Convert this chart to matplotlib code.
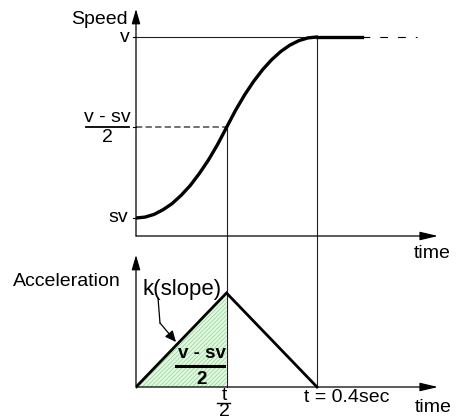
import matplotlib
matplotlib.use("Agg")
import matplotlib.pyplot as plt

plt.rcParams['font.family'] = ['Liberation Sans', 'DejaVu Sans']
plt.rcParams['hatch.linewidth'] = 0.5

# speed profile (0 = sv, 1 = v) sampled over the 0.4 s ramp
times = [0.00, 0.02, 0.04, 0.06, 0.08, 0.10, 0.12, 0.14, 0.16, 0.18, 0.20,
         0.22, 0.24, 0.26, 0.28, 0.30, 0.32, 0.34, 0.36, 0.38, 0.40]
speed = [0.000, 0.005, 0.020, 0.046, 0.080, 0.126, 0.180, 0.246, 0.320, 0.405, 0.500,
         0.595, 0.680, 0.755, 0.820, 0.875, 0.920, 0.955, 0.980, 0.995, 1.000]
sv_level = 0.0
v_level = 1.0
mid_level = 0.5

# speed held at v after the ramp
hold_times = [0.40, 0.50]
hold_dash_times = [0.50, 0.62]

# triangular acceleration profile
acc_times = [0.0, 0.2, 0.4]
acc_values = [0.0, 1.0, 0.0]
t_end = 0.4
t_half = 0.2

W, H = 461, 418
fig = plt.figure(figsize=(W / 100, H / 100), dpi=100)

x0, x_tip = 136, 437
t_max = 0.4 * (x_tip - x0) / 181
ax_w = (x_tip - x0) / W

ax1 = fig.add_axes([x0 / W, 1 - 236 / H, ax_w, (236 - 9) / H])
ax1.set_xlim(0, t_max)
s_axis = (218 - 236) / 181
ax1.set_ylim(s_axis, (218 - 9) / 181)
ax1.set_axis_off()

ax2 = fig.add_axes([x0 / W, 0, ax_w, (H - 236) / H])
ax2.set_xlim(0, t_max)
a_top = (387 - 236) / 94
ax2.set_ylim((387 - H) / 94, a_top)
ax2.set_axis_off()

dt = 0.4 / 181   # time per pixel
ds = 1 / 181     # speed per pixel
da = 1 / 94      # acceleration per pixel

thin = dict(color='#222222', lw=0.8)


def axis_arrow(ax, start, end, hl):
    ax.annotate('', xy=end, xytext=start, annotation_clip=False,
                arrowprops=dict(arrowstyle=f'-|>,head_length={hl},head_width=0.13',
                                mutation_scale=20, lw=0.9, color='black',
                                shrinkA=0, shrinkB=0))


# ---- speed plot ----
axis_arrow(ax1, (0, s_axis), (t_max + dt, s_axis), 0.55)
axis_arrow(ax1, (0, s_axis), (0, (218 - 9) / 181), 0.45)

ax1.plot([0, t_end], [v_level, v_level], **thin)
ax1.plot([t_end, t_end], [v_level, s_axis], **thin)
ax1.plot([t_half, t_half], [mid_level, s_axis], **thin)
ax1.plot([0, t_half], [mid_level, mid_level], color='#666666', lw=1.3,
         linestyle=(0, (3.5, 1.8)))

ax1.plot(times, speed, color='black', lw=2.4, solid_joinstyle='round',
         solid_capstyle='round')
ax1.plot(hold_times, [v_level, v_level], color='black', lw=2.4)
ax1.plot(hold_dash_times, [v_level, v_level], color='black', lw=0.8,
         linestyle=(0, (7, 9)))

for lev in (sv_level, mid_level, v_level):
    ax1.plot([-3 * dt, 0], [lev, lev], color='black', lw=0.8, clip_on=False)

fs = 14
ax1.text(-8 * dt, (218 - 19) / 181, 'Speed', ha='right', va='center', fontsize=fs)
ax1.text(-6 * dt, v_level, 'v', ha='right', va='center', fontsize=fs)
ax1.text(-8 * dt, sv_level, 'sv', ha='right', va='center', fontsize=fs)
ax1.text(-29 * dt, mid_level + 10 * ds, 'v - sv', ha='center', va='center', fontsize=fs)
ax1.plot([-50 * dt, -7 * dt], [mid_level, mid_level], color='black', lw=1.3,
         clip_on=False)
ax1.text(-29 * dt, mid_level - 10 * ds, '2', ha='center', va='center', fontsize=fs)
ax1.text(0.654, (218 - 253) / 181, 'time', ha='center', va='center', fontsize=fs)

# ---- acceleration plot ----
axis_arrow(ax2, (0, 0), (t_max + dt, 0), 0.55)
axis_arrow(ax2, (0, 0), (0, (387 - 255) / 94), 0.45)

ax2.plot([t_end, t_end], [a_top, 0], **thin)
ax2.plot([t_half, t_half], [a_top, 0], **thin)

ax2.fill_between(acc_times[:2], [0, 0], acc_values[:2], facecolor='#e4f7e4',
                 edgecolor='#8ad88a', hatch='////////', lw=0)
ax2.plot(acc_times, acc_values, color='black', lw=2.0, solid_joinstyle='miter')

ax2.text(-123 * dt, (387 - 281) * da, 'Acceleration', ha='left', va='center', fontsize=fs)
ax2.text(7 * dt, (387 - 289) * da, 'k(slope)', ha='left', va='center', fontsize=16)

# leader from the slope label to the rising edge
p1 = (22 * dt, (387 - 298) * da)
p2 = (24 * dt, (387 - 323) * da)
tip = (40 * dt, (387 - 342) * da)
ax2.plot([p1[0], p2[0]], [p1[1], p2[1]], color='black', lw=0.9)
ax2.annotate('', xy=tip, xytext=p2,
             arrowprops=dict(arrowstyle='-|>,head_length=0.55,head_width=0.25',
                             mutation_scale=12, lw=0.9, color='black',
                             shrinkA=0, shrinkB=0))

ax2.text(66 * dt, (387 - 353) * da, 'v - sv', ha='center', va='center',
         fontsize=13.5, fontweight='bold')
ax2.plot([40 * dt, 88 * dt], [(387 - 366) * da] * 2, color='black', lw=2.2)
ax2.text(66 * dt, (387 - 379) * da, '2', ha='center', va='center',
         fontsize=13.5, fontweight='bold')

ax2.text(88 * dt, (387 - 395) * da, 't', ha='center', va='center', fontsize=fs)
ax2.plot([81 * dt, 94 * dt], [(387 - 403) * da] * 2, color='black', lw=1.0,
         clip_on=False)
ax2.text(88 * dt, (387 - 411) * da, '2', ha='center', va='center', fontsize=fs)

ax2.text(211 * dt, (387 - 398) * da, 't = 0.4sec', ha='center', va='center', fontsize=fs)
ax2.text(297 * dt, (387 - 408) * da, 'time', ha='center', va='center', fontsize=fs)

fig.savefig('out.png', dpi=100)
